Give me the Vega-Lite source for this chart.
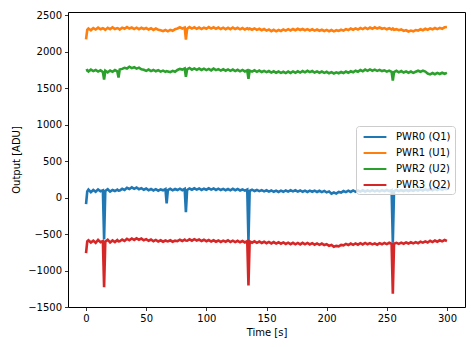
{
  "$schema": "https://vega.github.io/schema/vega-lite/v6.json",
  "width": 397,
  "height": 295,
  "autosize": {"type": "none"},
  "padding": {"left": 68, "top": 12, "right": 10, "bottom": 40},
  "background": "white",
  "config": {
    "font": "DejaVu Sans",
    "view": {"stroke": "black", "strokeWidth": 1},
    "axis": {
      "domain": false, "grid": false, "tickColor": "black", "tickSize": 3.5, "tickWidth": 0.8,
      "labelFont": "DejaVu Sans", "labelFontSize": 10, "labelColor": "black", "labelPadding": 3,
      "titleFont": "DejaVu Sans", "titleFontSize": 10, "titleFontWeight": "normal", "titleColor": "black"
    }
  },
  "data": {"values": [
    {"t":0,"a":-90,"b":2170,"c":1740,"d":-760},
    {"t":1,"a":85,"b":2300,"c":1748,"d":-600},
    {"t":2,"a":110,"b":2318,"c":1730,"d":-585},
    {"t":4,"a":75,"b":2295,"c":1755,"d":-615},
    {"t":6,"a":105,"b":2325,"c":1735,"d":-590},
    {"t":8,"a":80,"b":2305,"c":1750,"d":-620},
    {"t":10,"a":112,"b":2330,"c":1728,"d":-580},
    {"t":12,"a":88,"b":2308,"c":1745,"d":-612},
    {"t":14,"a":100,"b":2322,"c":1722,"d":-595},
    {"t":15,"a":-570,"b":2315,"c":1618,"d":-1228},
    {"t":16,"a":92,"b":2300,"c":1740,"d":-605},
    {"t":18,"a":115,"b":2328,"c":1718,"d":-578},
    {"t":20,"a":82,"b":2310,"c":1742,"d":-615},
    {"t":22,"a":105,"b":2335,"c":1725,"d":-588},
    {"t":24,"a":90,"b":2312,"c":1748,"d":-610},
    {"t":26,"a":110,"b":2325,"c":1730,"d":-582},
    {"t":27,"a":95,"b":2318,"c":1646,"d":-600},
    {"t":28,"a":98,"b":2305,"c":1755,"d":-598},
    {"t":30,"a":120,"b":2330,"c":1765,"d":-575},
    {"t":32,"a":105,"b":2315,"c":1780,"d":-595},
    {"t":34,"a":135,"b":2338,"c":1770,"d":-565},
    {"t":36,"a":118,"b":2318,"c":1795,"d":-585},
    {"t":38,"a":140,"b":2332,"c":1775,"d":-560},
    {"t":40,"a":120,"b":2312,"c":1788,"d":-580},
    {"t":42,"a":138,"b":2330,"c":1768,"d":-558},
    {"t":44,"a":115,"b":2310,"c":1782,"d":-578},
    {"t":46,"a":130,"b":2328,"c":1760,"d":-562},
    {"t":48,"a":108,"b":2312,"c":1752,"d":-585},
    {"t":50,"a":125,"b":2325,"c":1738,"d":-570},
    {"t":52,"a":100,"b":2305,"c":1755,"d":-592},
    {"t":54,"a":118,"b":2322,"c":1735,"d":-575},
    {"t":56,"a":98,"b":2300,"c":1750,"d":-598},
    {"t":58,"a":115,"b":2318,"c":1732,"d":-580},
    {"t":60,"a":95,"b":2302,"c":1748,"d":-602},
    {"t":62,"a":112,"b":2295,"c":1728,"d":-585},
    {"t":64,"a":100,"b":2282,"c":1742,"d":-605},
    {"t":66,"a":118,"b":2298,"c":1725,"d":-588},
    {"t":67,"a":-80,"b":2290,"c":1735,"d":-595},
    {"t":68,"a":102,"b":2280,"c":1730,"d":-600},
    {"t":70,"a":120,"b":2300,"c":1720,"d":-585},
    {"t":72,"a":100,"b":2288,"c":1738,"d":-605},
    {"t":74,"a":118,"b":2310,"c":1725,"d":-590},
    {"t":76,"a":104,"b":2320,"c":1750,"d":-598},
    {"t":78,"a":122,"b":2335,"c":1765,"d":-578},
    {"t":80,"a":102,"b":2318,"c":1755,"d":-595},
    {"t":82,"a":120,"b":2332,"c":1772,"d":-575},
    {"t":83,"a":-200,"b":2166,"c":1655,"d":-590},
    {"t":84,"a":105,"b":2315,"c":1760,"d":-592},
    {"t":86,"a":125,"b":2338,"c":1778,"d":-572},
    {"t":88,"a":108,"b":2318,"c":1755,"d":-590},
    {"t":90,"a":128,"b":2335,"c":1772,"d":-570},
    {"t":92,"a":110,"b":2315,"c":1752,"d":-588},
    {"t":94,"a":125,"b":2332,"c":1770,"d":-575},
    {"t":96,"a":105,"b":2312,"c":1750,"d":-595},
    {"t":98,"a":122,"b":2330,"c":1768,"d":-578},
    {"t":100,"a":108,"b":2315,"c":1748,"d":-598},
    {"t":102,"a":128,"b":2338,"c":1765,"d":-582},
    {"t":104,"a":110,"b":2318,"c":1745,"d":-602},
    {"t":106,"a":125,"b":2335,"c":1768,"d":-585},
    {"t":108,"a":105,"b":2315,"c":1748,"d":-605},
    {"t":110,"a":122,"b":2332,"c":1762,"d":-588},
    {"t":112,"a":104,"b":2312,"c":1742,"d":-608},
    {"t":114,"a":120,"b":2330,"c":1760,"d":-590},
    {"t":116,"a":102,"b":2310,"c":1740,"d":-605},
    {"t":118,"a":118,"b":2328,"c":1758,"d":-585},
    {"t":120,"a":100,"b":2310,"c":1738,"d":-608},
    {"t":122,"a":120,"b":2332,"c":1755,"d":-590},
    {"t":124,"a":102,"b":2312,"c":1735,"d":-610},
    {"t":126,"a":118,"b":2328,"c":1752,"d":-592},
    {"t":128,"a":98,"b":2308,"c":1732,"d":-612},
    {"t":130,"a":112,"b":2325,"c":1750,"d":-595},
    {"t":132,"a":95,"b":2305,"c":1730,"d":-615},
    {"t":134,"a":110,"b":2322,"c":1745,"d":-598},
    {"t":135,"a":-595,"b":2310,"c":1630,"d":-1206},
    {"t":136,"a":92,"b":2318,"c":1742,"d":-600},
    {"t":138,"a":108,"b":2302,"c":1728,"d":-618},
    {"t":140,"a":90,"b":2320,"c":1745,"d":-600},
    {"t":142,"a":105,"b":2300,"c":1725,"d":-620},
    {"t":144,"a":88,"b":2315,"c":1742,"d":-602},
    {"t":146,"a":102,"b":2295,"c":1722,"d":-622},
    {"t":148,"a":85,"b":2312,"c":1738,"d":-605},
    {"t":150,"a":100,"b":2290,"c":1720,"d":-625},
    {"t":152,"a":82,"b":2305,"c":1735,"d":-608},
    {"t":154,"a":98,"b":2282,"c":1715,"d":-628},
    {"t":156,"a":80,"b":2300,"c":1732,"d":-610},
    {"t":158,"a":96,"b":2280,"c":1712,"d":-630},
    {"t":160,"a":78,"b":2298,"c":1728,"d":-612},
    {"t":162,"a":95,"b":2285,"c":1710,"d":-632},
    {"t":164,"a":80,"b":2305,"c":1725,"d":-615},
    {"t":166,"a":98,"b":2290,"c":1708,"d":-635},
    {"t":168,"a":82,"b":2310,"c":1728,"d":-618},
    {"t":170,"a":100,"b":2292,"c":1710,"d":-638},
    {"t":172,"a":85,"b":2312,"c":1730,"d":-620},
    {"t":174,"a":100,"b":2295,"c":1712,"d":-640},
    {"t":176,"a":82,"b":2315,"c":1732,"d":-622},
    {"t":178,"a":98,"b":2298,"c":1715,"d":-642},
    {"t":180,"a":80,"b":2312,"c":1735,"d":-620},
    {"t":182,"a":96,"b":2295,"c":1718,"d":-640},
    {"t":184,"a":78,"b":2310,"c":1738,"d":-622},
    {"t":186,"a":95,"b":2292,"c":1720,"d":-642},
    {"t":188,"a":80,"b":2308,"c":1735,"d":-625},
    {"t":190,"a":96,"b":2290,"c":1715,"d":-645},
    {"t":192,"a":78,"b":2305,"c":1730,"d":-628},
    {"t":194,"a":94,"b":2288,"c":1712,"d":-648},
    {"t":196,"a":76,"b":2302,"c":1728,"d":-630},
    {"t":198,"a":92,"b":2285,"c":1710,"d":-650},
    {"t":200,"a":72,"b":2300,"c":1725,"d":-638},
    {"t":202,"a":85,"b":2282,"c":1705,"d":-660},
    {"t":204,"a":55,"b":2298,"c":1720,"d":-650},
    {"t":206,"a":70,"b":2280,"c":1702,"d":-675},
    {"t":208,"a":55,"b":2295,"c":1718,"d":-662},
    {"t":210,"a":78,"b":2285,"c":1705,"d":-668},
    {"t":212,"a":70,"b":2302,"c":1722,"d":-648},
    {"t":214,"a":90,"b":2290,"c":1708,"d":-655},
    {"t":216,"a":75,"b":2310,"c":1728,"d":-635},
    {"t":218,"a":95,"b":2298,"c":1712,"d":-650},
    {"t":220,"a":78,"b":2318,"c":1732,"d":-630},
    {"t":222,"a":98,"b":2302,"c":1718,"d":-648},
    {"t":224,"a":80,"b":2320,"c":1740,"d":-628},
    {"t":226,"a":98,"b":2305,"c":1725,"d":-645},
    {"t":228,"a":82,"b":2325,"c":1748,"d":-625},
    {"t":230,"a":100,"b":2310,"c":1732,"d":-642},
    {"t":232,"a":84,"b":2330,"c":1755,"d":-622},
    {"t":234,"a":100,"b":2312,"c":1738,"d":-640},
    {"t":236,"a":85,"b":2332,"c":1758,"d":-625},
    {"t":238,"a":102,"b":2315,"c":1740,"d":-642},
    {"t":240,"a":86,"b":2335,"c":1755,"d":-628},
    {"t":242,"a":100,"b":2318,"c":1738,"d":-645},
    {"t":244,"a":85,"b":2332,"c":1752,"d":-625},
    {"t":246,"a":102,"b":2315,"c":1735,"d":-640},
    {"t":248,"a":88,"b":2325,"c":1745,"d":-622},
    {"t":250,"a":104,"b":2308,"c":1728,"d":-638},
    {"t":252,"a":88,"b":2322,"c":1742,"d":-620},
    {"t":254,"a":102,"b":2305,"c":1725,"d":-635},
    {"t":255,"a":-620,"b":2318,"c":1605,"d":-1318},
    {"t":256,"a":90,"b":2300,"c":1720,"d":-632},
    {"t":258,"a":104,"b":2310,"c":1738,"d":-620},
    {"t":260,"a":88,"b":2295,"c":1718,"d":-635},
    {"t":262,"a":102,"b":2305,"c":1735,"d":-618},
    {"t":264,"a":90,"b":2285,"c":1715,"d":-632},
    {"t":266,"a":104,"b":2295,"c":1730,"d":-615},
    {"t":268,"a":90,"b":2278,"c":1712,"d":-630},
    {"t":270,"a":105,"b":2290,"c":1728,"d":-612},
    {"t":272,"a":92,"b":2280,"c":1710,"d":-628},
    {"t":274,"a":108,"b":2298,"c":1725,"d":-610},
    {"t":276,"a":95,"b":2290,"c":1740,"d":-625},
    {"t":278,"a":112,"b":2308,"c":1725,"d":-605},
    {"t":280,"a":98,"b":2295,"c":1742,"d":-618},
    {"t":282,"a":115,"b":2315,"c":1728,"d":-600},
    {"t":284,"a":100,"b":2302,"c":1702,"d":-615},
    {"t":286,"a":118,"b":2320,"c":1690,"d":-592},
    {"t":288,"a":102,"b":2308,"c":1708,"d":-610},
    {"t":290,"a":120,"b":2325,"c":1692,"d":-588},
    {"t":292,"a":105,"b":2310,"c":1710,"d":-605},
    {"t":294,"a":122,"b":2328,"c":1695,"d":-585},
    {"t":296,"a":108,"b":2315,"c":1712,"d":-600},
    {"t":298,"a":125,"b":2335,"c":1698,"d":-582},
    {"t":300,"a":112,"b":2340,"c":1710,"d":-595}
  ]},
  "transform": [{"fold": ["a", "b", "c", "d"], "as": ["k", "v"]}],
  "mark": {"type": "line", "strokeWidth": 2.6, "clip": true},
  "encoding": {
    "x": {"field": "t", "type": "quantitative", "title": "Time [s]",
      "scale": {"domain": [-15, 315], "nice": false, "zero": false},
      "axis": {"values": [0, 50, 100, 150, 200, 250, 300], "format": "d", "titlePadding": 4}},
    "y": {"field": "v", "type": "quantitative", "title": "Output [ADU]",
      "scale": {"domain": [-1500, 2545], "nice": false, "zero": false},
      "axis": {"values": [-1500, -1000, -500, 0, 500, 1000, 1500, 2000, 2500], "format": "d", "titlePadding": 6}},
    "color": {"field": "k", "type": "nominal",
      "scale": {"domain": ["a", "b", "c", "d"], "range": ["#1f77b4", "#ff7f0e", "#2ca02c", "#d62728"]},
      "legend": {
        "title": null, "orient": "none", "legendX": 288, "legendY": 114,
        "labelExpr": "datum.value == 'a' ? 'PWR0 (Q1)\u00a0\u00a0' : datum.value == 'b' ? 'PWR1 (U1)\u00a0\u00a0' : datum.value == 'c' ? 'PWR2 (U2)\u00a0\u00a0' : 'PWR3 (Q2)\u00a0\u00a0'",
        "symbolType": "M-2,0H2", "symbolSize": 130, "symbolStrokeWidth": 2, "symbolOffset": 8,
        "labelFontSize": 10, "labelColor": "black", "labelOffset": 14, "rowPadding": 4,
        "fillColor": "rgba(255,255,255,0.8)", "strokeColor": "#cccccc", "cornerRadius": 3, "padding": 4
      }}
  }
}
